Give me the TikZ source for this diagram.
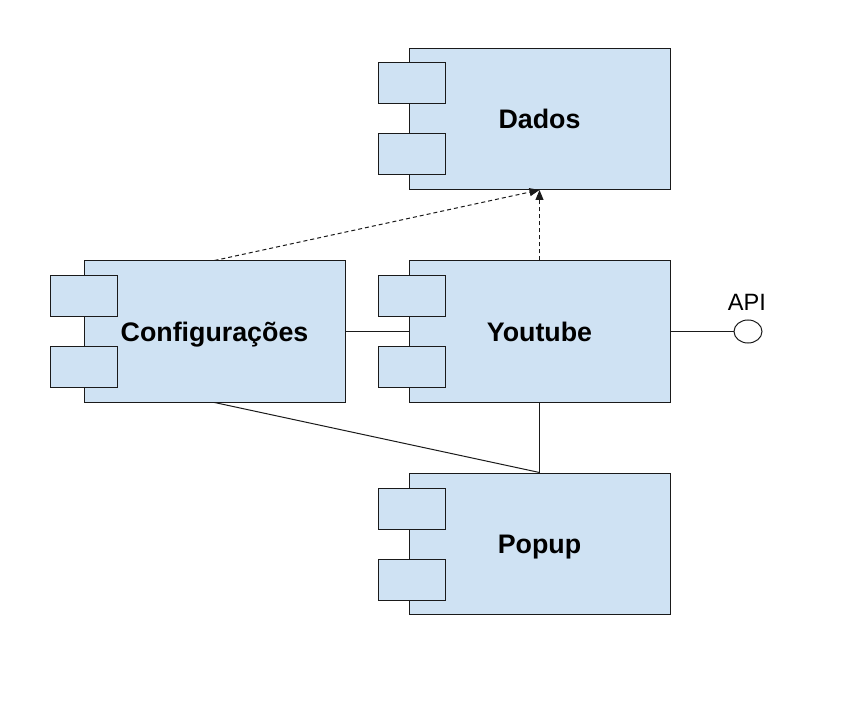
\documentclass[tikz,border=0pt]{standalone}
\usepackage{fontspec}
\setmainfont{Liberation Sans}
\usetikzlibrary{arrows.meta,shapes.geometric}
\definecolor{compfill}{HTML}{CFE2F3}
\definecolor{compline}{HTML}{1A1A1A}
\tikzset{
  comp/.style={draw=compline, fill=compfill, line width=1pt, minimum width=261pt, minimum height=141pt, inner sep=0pt, text height=19.2pt, text depth=0pt, font=\fontsize{26.8}{30}\selectfont\bfseries},
  port/.style={draw=compline, fill=compfill, line width=1pt, minimum width=67pt, minimum height=41pt, inner sep=0pt},
  conn/.style={draw=compline, line width=1pt},
  dep/.style={conn, dash pattern=on 4pt off 3pt, -{Triangle[length=10pt,width=8pt]}},
}
\begin{document}
\begin{tikzpicture}[x=1pt,y=-1pt]
\useasboundingbox (0,0) rectangle (863,722);
% Dados
\node[comp] (dados) at (539.5,119) {Dados};
\node[port] (dadosp1) at (411.5,83.5) {};
\node[port] (dadosp2) at (411.5,154.5) {};
% Configuracoes
\node[comp] (conf) at (214.5,331.5) {Configurações};
\node[port] (confp1) at (84,296.5) {};
\node[port] (confp2) at (84,367) {};
% Youtube
\node[comp] (yt) at (539.5,331.5) {Youtube};
\node[port] (ytp1) at (411.5,296.5) {};
\node[port] (ytp2) at (411.5,367) {};
% Popup
\node[comp] (popup) at (539.5,543.5) {Popup};
\node[port] (popupp1) at (411.5,508.5) {};
\node[port] (popupp2) at (411.5,579.5) {};
% API interface
\node[ellipse, draw=compline, line width=1pt, fill=white, minimum width=28pt, minimum height=23pt, inner sep=0pt] (api) at (748,331.5) {};
\node[font=\fontsize{23.6}{26}\selectfont] (apilabel) at (747,302) {API};
% connectors
\draw[dep] (conf.north) -- (dados.south);
\draw[dep] (yt.north) -- (dados.south);
\draw[conn] (conf.east) -- (yt.west);
\draw[conn] (yt.east) -- (api.west);
\draw[conn] (yt.south) -- (popup.north);
\draw[conn] (conf.south) -- (popup.north);
\end{tikzpicture}
\end{document}
